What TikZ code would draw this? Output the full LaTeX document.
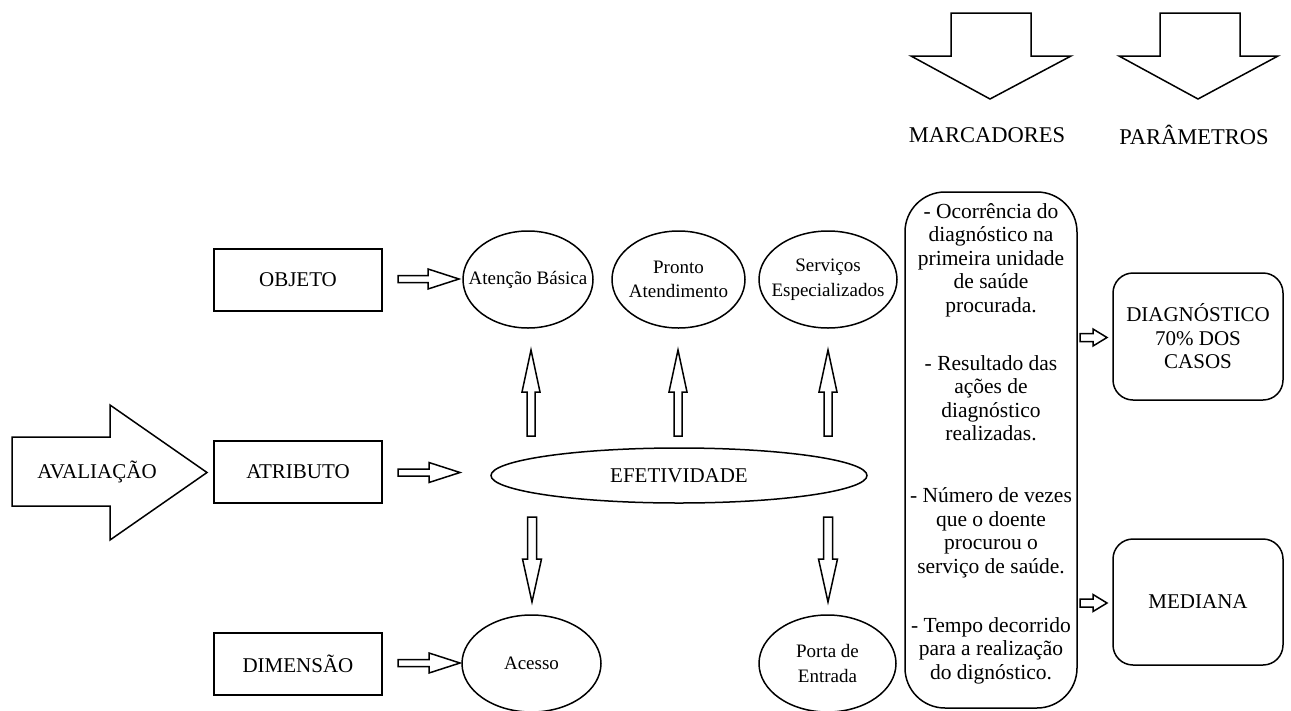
\documentclass[tikz,border=0pt]{standalone}
\usepackage{fontspec}
\setmainfont{Liberation Serif}
\usetikzlibrary{shapes.geometric,calc}
\tikzset{
  blk/.style={draw=black, line width=1.5pt, fill=white, line join=miter},
  sqbox/.style={draw=black, line width=1.5pt, minimum width=168pt, minimum height=62pt, inner sep=0pt, font=\fontsize{21}{23.5}\selectfont},
  rbox/.style={draw=black, line width=1.5pt, rounded corners=20pt, minimum width=170pt, inner sep=0pt, align=center, font=\fontsize{21}{23.5}\selectfont},
  ell/.style={draw=black, line width=1.5pt, ellipse, inner sep=0pt},
  etxt/.style={align=center, inner sep=0pt, font=\fontsize{19}{24.5}\selectfont},
  mtxt/.style={align=center, inner sep=0pt, font=\fontsize{21.5}{23.5}\selectfont},
  lbl/.style={inner sep=0pt, font=\fontsize{21}{23.5}\selectfont},
  hdr/.style={inner sep=0pt, font=\fontsize{22.5}{25}\selectfont}
}
% #1 rotation, #2 start coordinate, #3 length, #4 shaft half width, #5 head half width, #6 head length
\newcommand\blockarrow[6]{%
  \draw[blk, shift={(#2)}, rotate=#1] (0,#4) -- ({#3-#6},#4) -- ({#3-#6},#5) -- (#3,0)
    -- ({#3-#6},-#5) -- ({#3-#6},-#4) -- (0,-#4) -- cycle;}
\begin{document}
\begin{tikzpicture}[x=1pt,y=-1pt]
\useasboundingbox (0,0) rectangle (1291,710);

% top big arrows and headers
\draw[blk] (951,13) -- (1031,13) -- (1031,56) -- (1071,56) -- (990,99) -- (911,56) -- (951,56) -- cycle;
\draw[blk] (1160,13) -- (1240,13) -- (1240,56) -- (1278,56) -- (1198,99) -- (1119,56) -- (1160,56) -- cycle;
\node[hdr] (marc) at (987,135) {MARCADORES};
\node[hdr] (param) at (1194,135) {PARÂMETROS};

% AVALIACAO arrow
\draw[blk] (12,437) -- (110,437) -- (110,405) -- (207,472.5) -- (110,540) -- (110,506) -- (12,506) -- cycle;
\node[lbl] (aval) at (97,472) {AVALIAÇÃO};

% left boxes
\node[sqbox] (obj) at (298,280) {OBJETO};
\node[sqbox] (atr) at (298,472) {ATRIBUTO};
\node[sqbox] (dim) at (298,664) {DIMENSÃO};

% ellipses
\node[ell, minimum width=130pt, minimum height=97pt] (ab) at (528,279.5) {};
\node[etxt] (abt) at (ab.center) {Atenção Básica};
\node[ell, minimum width=133pt, minimum height=97pt] (pa) at (678.5,279.5) {};
\node[etxt] (pat) at (pa.center) {Pronto\\Atendimento};
\node[ell, minimum width=138pt, minimum height=97pt] (se) at (828,279.5) {};
\node[etxt] (set) at (se.center) {Serviços\\Especializados};
\node[ell, minimum width=376pt, minimum height=55pt] (ef) at (679,475.5) {};
\node[lbl] (eft) at (ef.center) {EFETIVIDADE};
\node[ell, minimum width=139pt, minimum height=97pt] (ac) at (531.5,663.5) {};
\node[etxt] (act) at (ac.center) {Acesso};
\node[ell, minimum width=137pt, minimum height=97pt] (pe) at (827.5,663.5) {};
\node[etxt] (pet) at (pe.center) {Porta de\\Entrada};

% marcadores box
\node[draw=black, line width=1.5pt, rounded corners=40pt, minimum width=172pt, minimum height=516pt, inner sep=0pt] (mbox) at (991,450) {};
\node[mtxt] (m1) at (991,260) {- Ocorrência do\\diagnóstico na\\primeira unidade\\de saúde\\procurada.};
\node[mtxt] (m2) at (991,398) {- Resultado das\\ações de\\diagnóstico\\realizadas.};
\node[mtxt] (m3) at (991,533) {- Número de vezes\\que o doente\\procurou o\\serviço de saúde.};
\node[mtxt] (m4) at (991,650.5) {- Tempo decorrido\\para a realização\\do dignóstico.};

% right boxes
\node[rbox, minimum height=127pt] (diag) at (1198,336.5) {DIAGNÓSTICO\\70\% DOS\\CASOS};
\node[rbox, minimum height=126pt] (med) at (1198,602) {MEDIANA};

% connector coordinates
\coordinate (c1) at (398,279);
\coordinate (c2) at (398,472.5);
\coordinate (c3) at (398,663);
\coordinate (u1) at (531,436);
\coordinate (u2) at (678,436);
\coordinate (u3) at (828,436);
\coordinate (d1) at (532,517);
\coordinate (d2) at (828,517);
\coordinate (r1) at (1080,337.5);
\coordinate (r2) at (1080,603);

\blockarrow{0}{c1}{61}{3.5}{10}{31}
\blockarrow{0}{c2}{62}{3.5}{10}{31}
\blockarrow{0}{c3}{62}{3.5}{10}{31}
\blockarrow{90}{u1}{86}{4}{9}{42}
\blockarrow{90}{u2}{86}{4}{9}{42}
\blockarrow{90}{u3}{86}{4}{9}{42}
\blockarrow{-90}{d1}{85}{4.5}{9.5}{43}
\blockarrow{-90}{d2}{85}{4.5}{9.5}{43}
\blockarrow{0}{r1}{27}{4}{8.5}{14}
\blockarrow{0}{r2}{27}{4}{8.5}{14}
\end{tikzpicture}
\end{document}
